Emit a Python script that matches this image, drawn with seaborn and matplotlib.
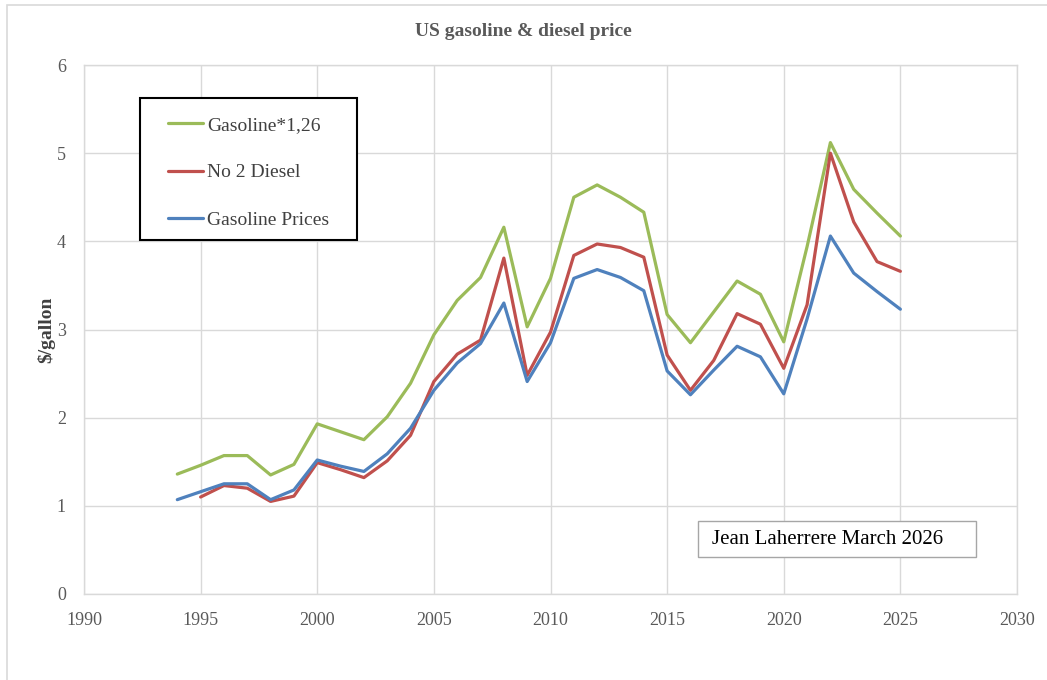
import matplotlib
matplotlib.use("Agg")
import matplotlib.pyplot as plt
import seaborn as sns
import pandas as pd

# values ($/gallon)
years = list(range(1994, 2026))
gasoline = [1.07, 1.16, 1.25, 1.25, 1.07, 1.18, 1.52, 1.45, 1.39, 1.59, 1.88,
            2.31, 2.62, 2.84, 3.30, 2.41, 2.85, 3.58, 3.68, 3.59, 3.44,
            2.53, 2.26, 2.54, 2.81, 2.69, 2.27, 3.12, 4.06, 3.64, 3.43, 3.23]
gasoline_126 = [1.36, 1.46, 1.57, 1.57, 1.35, 1.47, 1.93, 1.84, 1.75, 2.01, 2.39,
                2.94, 3.33, 3.59, 4.16, 3.03, 3.58, 4.50, 4.64, 4.50, 4.33,
                3.17, 2.85, 3.20, 3.55, 3.40, 2.86, 3.94, 5.12, 4.59, 4.32, 4.06]
diesel_years = list(range(1995, 2026))
diesel = [1.10, 1.23, 1.20, 1.05, 1.11, 1.49, 1.41, 1.32, 1.51, 1.80,
          2.41, 2.72, 2.88, 3.81, 2.48, 2.97, 3.84, 3.97, 3.93, 3.82,
          2.71, 2.31, 2.65, 3.18, 3.06, 2.56, 3.28, 5.00, 4.22, 3.77, 3.66]

series_names = ["Gasoline*1,26", "No 2 Diesel", "Gasoline Prices"]
colors = ["#9bbb59", "#c0504d", "#4f81bd"]

df = pd.concat([
    pd.DataFrame({"year": years, "price": gasoline_126, "series": series_names[0]}),
    pd.DataFrame({"year": diesel_years, "price": diesel, "series": series_names[1]}),
    pd.DataFrame({"year": years, "price": gasoline, "series": series_names[2]}),
])

sns.set_theme(style="white")
plt.rcParams["font.family"] = ["Liberation Serif", "DejaVu Serif"]

W, H = 1047, 680
fig = plt.figure(figsize=(W / 100, H / 100), dpi=100)
ax = fig.add_axes([84 / W, 1 - 594 / H, (1017 - 84) / W, (594 - 65) / H])

sns.lineplot(data=df, x="year", y="price", hue="series", hue_order=series_names,
             palette=colors, linewidth=2.3, ax=ax)

ax.set_xlim(1990, 2030)
ax.set_ylim(0, 6)
ax.set_xticks(range(1990, 2031, 5))
ax.set_yticks(range(0, 7))
ax.grid(True, color="#d9d9d9", linewidth=1)
for sp in ax.spines.values():
    sp.set_color("#d9d9d9")
    sp.set_linewidth(1)
ax.tick_params(axis="both", labelsize=13, colors="#595959", length=0)
ax.tick_params(axis="x", pad=13)
ax.tick_params(axis="y", pad=13)

ax.set_xlabel("")
ax.set_ylabel(r"\$/gallon", fontsize=14, fontweight="bold", color="#404040", labelpad=1)
fig.text(0.5, 1 - 32 / H, "US gasoline & diesel price", ha="center", va="center",
         fontsize=14, fontweight="bold", color="#595959")

# legend: frameless, with its own black box drawn behind it
ax.add_patch(plt.Rectangle((140 / W, 1 - 240 / H), (357 - 140) / W, (240 - 98) / H,
                           transform=fig.transFigure, facecolor="white", clip_on=False,
                           edgecolor="black", linewidth=1.5, zorder=4))
leg = ax.legend(loc="upper left", bbox_to_anchor=(168 / W, 1 - 116 / H),
                bbox_transform=fig.transFigure, fontsize=14, labelspacing=1.55,
                handlelength=1.8, handletextpad=0.2, borderpad=0,
                borderaxespad=0, frameon=False)
leg.set_zorder(6)
for t in leg.get_texts():
    t.set_color("#404040")

# author note box
ax.add_patch(plt.Rectangle((698 / W, 1 - 557 / H), (976 - 698) / W, (557 - 521) / H,
                           transform=fig.transFigure, facecolor="white", clip_on=False,
                           edgecolor="#a6a6a6", linewidth=1, zorder=4))
ax.text(712 / W, 1 - 540 / H, "Jean Laherrere March 2026", transform=fig.transFigure,
        ha="left", va="center", fontsize=15, color="black", zorder=6)

# outer chart border
fig.patches.append(plt.Rectangle((7 / W, -0.01), 1.02, 1 - 5 / H + 0.01,
                                 transform=fig.transFigure, fill=False,
                                 edgecolor="#d9d9d9", linewidth=1.2))

fig.savefig("out.png", dpi=100)
